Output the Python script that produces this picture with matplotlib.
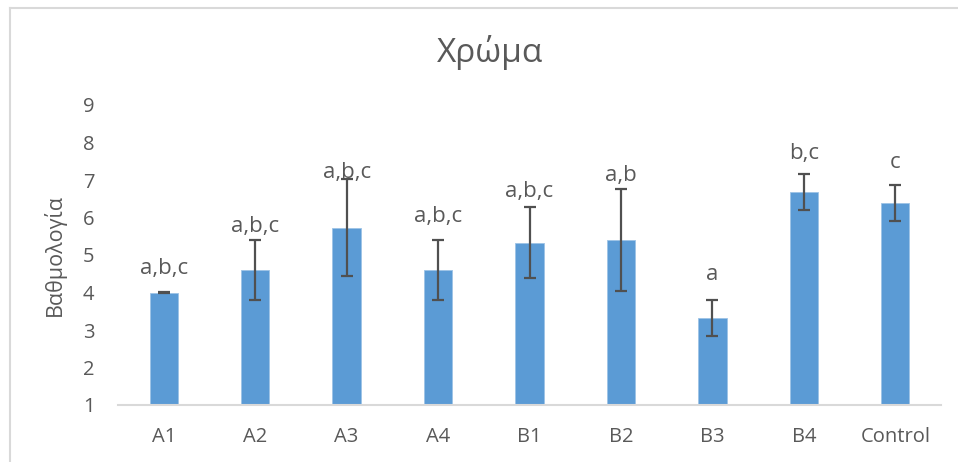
import matplotlib
matplotlib.use("Agg")
import matplotlib.pyplot as plt
from matplotlib.lines import Line2D
import numpy as np

plt.rcParams['font.family'] = ['Open Sans', 'Noto Sans', 'DejaVu Sans']

categories = ["A1", "A2", "A3", "A4", "B1", "B2", "B3", "B4", "Control"]
means = [4.0, 4.6, 5.73, 4.6, 5.33, 5.4, 3.33, 6.67, 6.38]
errors = [0.02, 0.8, 1.3, 0.8, 0.95, 1.36, 0.48, 0.48, 0.48]
letters = ["a,b,c", "a,b,c", "a,b,c", "a,b,c", "a,b,c", "a,b", "a", "b,c", "c"]
y_ticks = [1, 2, 3, 4, 5, 6, 7, 8, 9]

# height of each letter group above the axis floor
letter_y = [4.65, 5.75, 7.21, 6.02, 6.69, 7.13, 4.47, 7.71, 7.46]

text_color = "#595959"
bar_color = "#5B9BD5"
frame_color = "#D9D9D9"

fig = plt.figure(figsize=(9.58, 4.62), dpi=100)
W, H = 958, 462
ax = fig.add_axes([118 / W, 1 - 405 / H, (941 - 118) / W, 300 / H])

x = np.arange(len(categories))
base = y_ticks[0]
heights = [m - base for m in means]
ax.bar(x, heights, bottom=base, width=0.31, color=bar_color,
       edgecolor="#9DC3E6", linewidth=0.6, zorder=2)
ax.errorbar(x, means, yerr=errors, fmt="none", ecolor="#505050",
            elinewidth=1.6, capsize=4.5, capthick=1.6, zorder=3)

for xi, lab, ly in zip(x, letters, letter_y):
    ax.text(xi, ly, lab, ha="center", va="center", fontsize=16,
            color=text_color, zorder=4)

ax.set_xlim(-0.5, len(categories) - 0.5)
ax.set_ylim(y_ticks[0], y_ticks[-1])
ax.set_yticks(y_ticks)
ax.set_xticks(x)
ax.set_xticklabels(categories)
ax.tick_params(axis="both", length=0, labelsize=14.5, colors=text_color)
ax.tick_params(axis="y", pad=17)
ax.tick_params(axis="x", pad=16)

for side in ["top", "right", "left"]:
    ax.spines[side].set_visible(False)
ax.spines["bottom"].set_color(frame_color)
ax.spines["bottom"].set_linewidth(1.5)

ax.set_ylabel("Βαθμολογία", fontsize=15.5, color=text_color, labelpad=12)
fig.text(490 / W, 1 - 52 / H, "Χρώμα", ha="center", va="center",
         fontsize=24, color=text_color)

# chart-area frame
fig.add_artist(Line2D([10 / W, 10 / W], [0, 1 - 8 / H], transform=fig.transFigure,
                      color=frame_color, linewidth=1.5))
fig.add_artist(Line2D([10 / W, 1], [1 - 8 / H, 1 - 8 / H], transform=fig.transFigure,
                      color=frame_color, linewidth=1.5))

fig.savefig("out.png", dpi=100)
